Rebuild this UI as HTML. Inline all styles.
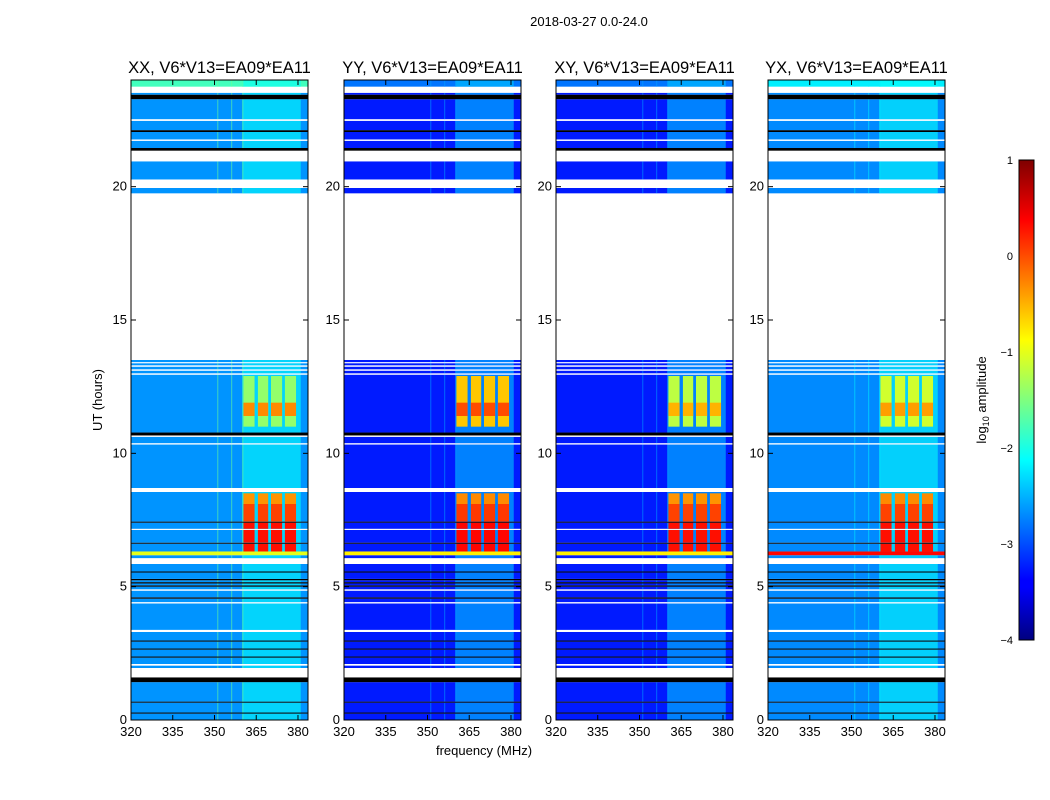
<!DOCTYPE html>
<html><head><meta charset="utf-8"><style>
html,body{margin:0;padding:0;background:#fff;}
svg{display:block;font-family:"Liberation Sans","DejaVu Sans",sans-serif;}
</style></head><body>
<svg id="fig" width="1050" height="800" viewBox="0 0 1050 800">
<defs>
<linearGradient id="jet" x1="0" y1="1" x2="0" y2="0">
<stop offset="0" stop-color="#00007f"/><stop offset="0.11" stop-color="#0000ff"/><stop offset="0.125" stop-color="#0000ff"/>
<stop offset="0.375" stop-color="#00ffff"/><stop offset="0.5" stop-color="#7fff7f"/><stop offset="0.625" stop-color="#ffff00"/>
<stop offset="0.875" stop-color="#ff0000"/><stop offset="1" stop-color="#7f0000"/>
</linearGradient>
</defs>
<text x="589" y="26" font-size="13" text-anchor="middle">2018-03-27 0.0-24.0</text>
<text x="0" y="0" font-size="13" text-anchor="middle" transform="translate(102,400) rotate(-90)">UT (hours)</text>
<text x="484" y="755" font-size="13" text-anchor="middle">frequency (MHz)</text>
<g id="panels"></g>
<rect x="1019" y="160" width="15" height="480" fill="url(#jet)" stroke="#000" stroke-width="1"/>
<g id="cbticks"></g>
<text x="0" y="0" font-size="13" text-anchor="middle" transform="translate(986,400) rotate(-90)">log<tspan font-size="9" dy="3">10</tspan><tspan dy="-3"> amplitude</tspan></text>
</svg>
<script>
// ---- data ----
const panelTitles = ["XX, V6*V13=EA09*EA11","YY, V6*V13=EA09*EA11","XY, V6*V13=EA09*EA11","YX, V6*V13=EA09*EA11"];
const segStart = [0,0.24,0.28,0.65,0.69,1.42,1.6,1.95,2.04,2.1,2.34,2.38,2.64,2.68,2.94,2.98,3.3,3.38,4.37,4.42,4.55,4.6,4.85,4.9,5.0,5.05,5.12,5.17,5.24,5.29,5.53,5.57,5.85,6.07,6.18,6.32,6.61,6.65,7.13,7.17,7.4,7.44,8.55,8.7,10.33,10.38,10.62,10.67,10.78,12.95,13.0,13.1,13.15,13.25,13.3,13.38,13.42,13.5,19.75,19.95,20.27,20.95,21.35,21.45,21.72,21.77,22.05,22.12,22.47,22.53,23.28,23.45,23.52,23.75];
const segEnd   = [0.24,0.28,0.65,0.69,1.42,1.6,1.95,2.04,2.1,2.34,2.38,2.64,2.68,2.94,2.98,3.3,3.38,4.37,4.42,4.55,4.6,4.85,4.9,5.0,5.05,5.12,5.17,5.24,5.29,5.53,5.57,5.85,6.07,6.18,6.32,6.61,6.65,7.13,7.17,7.4,7.44,8.55,8.7,10.33,10.38,10.62,10.67,10.78,12.95,13.0,13.1,13.15,13.25,13.3,13.38,13.42,13.5,19.75,19.95,20.27,20.95,21.35,21.45,21.72,21.77,22.05,22.12,22.47,22.53,23.28,23.45,23.52,23.75,24];
const segKind  = ["d","k","d","k","d","k","w","d","w","d","k","d","k","d","k","d","w","d","w","d","k","d","w","d","k","d","k","d","k","d","k","d","w","d","y","d","k","d","w","d","k","d","w","d","w","d","w","k","d","w","d","w","d","w","d","w","d","w","d","w","d","w","k","d","w","d","k","d","w","d","k","d","w","g"];
const baseLevel  = [-2.65,-3.25,-3.25,-2.7];
const lineLevel  = [-1.0,-0.8,-0.8,0.35];
const broadLevel = [-2.1,-2.4,-2.4,-2.1];
const topLevel   = [-1.8,-2.8,-2.8,-2.2];
const bandLo = [360.4,365.6,370.3,375.3];
const bandHi = [364.4,369.3,374.3,379.3];
const rfiStart = [6.32,7.44,8.1,11.0,11.4];
const rfiEnd   = [7.4,8.1,8.5,12.9,11.9];
const rfiXX = [0.3,0.05,-0.35,-1.4,-0.3];
const rfiYY = [0.35,0.1,-0.3,-0.6,0.0];
const rfiXY = [0.3,0.05,-0.35,-1.2,-0.5];
const rfiYX = [0.3,0.05,-0.3,-1.1,-0.4];
const rfiLevels = [rfiXX,rfiYY,rfiXY,rfiYX];
const vlineFreqs = [351,356,360];
const vlineLevel = [-1.6,-2.6,-2.6,-2.2];
const yTicks = [0,5,10,15,20];
const xTicks = [320,335,350,365,380];
const cbTicks = [1,0,-1,-2,-3,-4];
// ---- layout ----
const panelX = [131,344,556,768], panelW = 177, plotTop = 80, plotBottom = 720;
const fmin = 320, fmax = 383.6, tmax = 24;
const NS = "http://www.w3.org/2000/svg";
function jet(v){const x=Math.max(0,Math.min(1,(v+4)/5));const c=t=>Math.round(255*Math.max(0,Math.min(1,1.5-Math.abs(t))));return `rgb(${c(4*x-3)},${c(4*x-2)},${c(4*x-1)})`;}
function yScale(t){return plotBottom-(t/tmax)*(plotBottom-plotTop);}
function mk(tag,attrs,parent){const e=document.createElementNS(NS,tag);for(const k in attrs)e.setAttribute(k,attrs[k]);parent.appendChild(e);return e;}
const root=document.getElementById("panels");
panelX.forEach((px,p)=>{
  const xScale=f=>px+(f-fmin)/(fmax-fmin)*panelW;
  const g=mk("g",{},root);
  
  
  for(let i=0;i<segStart.length;i++){
    const y0=yScale(segEnd[i]),y1=yScale(segStart[i]);
    const k=segKind[i];
    let fill = k==="w"?"#ffffff":k==="k"?"#000000":k==="y"?jet(lineLevel[p]):k==="g"?jet(topLevel[p]):jet(baseLevel[p]);
    const r=mk("rect",{x:px,y:y0,width:panelW,height:Math.max(1,y1-y0),fill:fill},g);
    
    
    if(k==="d"||k==="g"){
      const b=mk("rect",{x:xScale(360),y:y0,width:xScale(381)-xScale(360),height:y1-y0,fill:jet(broadLevel[p]),opacity:0.6},g);
      
      
      vlineFreqs.forEach(f=>{
        const v=mk("rect",{x:xScale(f),y:y0,width:1,height:y1-y0,fill:jet(vlineLevel[p]),opacity:0.6},g);
        
        
      });
      for(let j=0;j<rfiStart.length;j++){
        const s=Math.max(rfiStart[j],segStart[i]),e=Math.min(rfiEnd[j],segEnd[i]);
        if(e<=s)continue;
        for(let q=0;q<bandLo.length;q++){
          const c=mk("rect",{x:xScale(bandLo[q]),y:yScale(e),width:xScale(bandHi[q])-xScale(bandLo[q]),height:yScale(s)-yScale(e),fill:jet(rfiLevels[p][j])},g);
          
          
        }
      }
    }
  }
  const fr=mk("rect",{x:px,y:plotTop,width:panelW,height:plotBottom-plotTop,fill:"none",stroke:"#000","stroke-width":1},g);
  
  
  const tt=mk("text",{x:px+panelW/2,y:plotTop-7,"font-size":16.5,"text-anchor":"middle"},g);
  tt.textContent=panelTitles[p];
  
  
  yTicks.forEach(t=>{
    const y=yScale(t);
    mk("line",{x1:px,x2:px+5,y1:y,y2:y,stroke:"#000"},g);
    mk("line",{x1:px+panelW-5,x2:px+panelW,y1:y,y2:y,stroke:"#000"},g);
    const l=mk("text",{x:px-4,y:y+4,"font-size":13,"text-anchor":"end"},g);
    l.textContent=t;
    
    
  });
  xTicks.forEach(f=>{
    const x=xScale(f);
    mk("line",{x1:x,x2:x,y1:plotBottom,y2:plotBottom-5,stroke:"#000"},g);
    mk("line",{x1:x,x2:x,y1:plotTop,y2:plotTop+5,stroke:"#000"},g);
    const l=mk("text",{x:x,y:plotBottom+16,"font-size":13,"text-anchor":"middle"},g);
    l.textContent=f;
    
    
  });
});
const cb=document.getElementById("cbticks");
cbTicks.forEach(v=>{
  const y=160+(1-v)/5*480;
  const l=mk("text",{x:1013,y:y+4,"font-size":11,"text-anchor":"end"},cb);
  l.textContent=v<0?"\u2212"+(-v):String(v);
  
  
});
</script>
</body></html>
